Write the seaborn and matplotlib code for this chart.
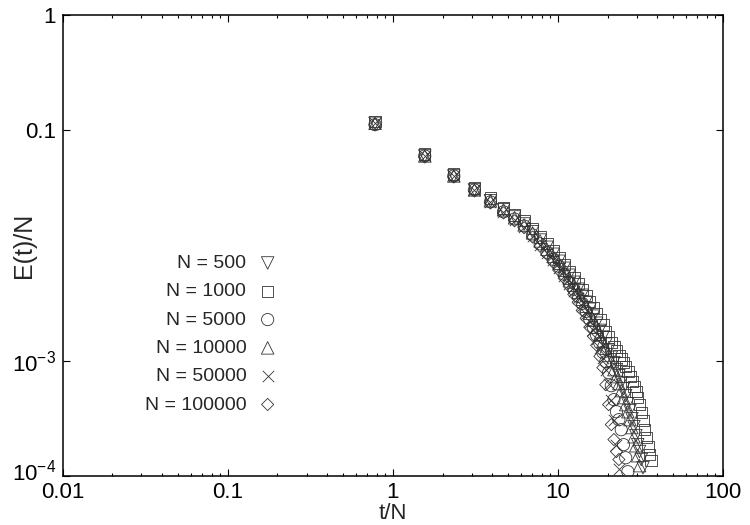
import matplotlib
import numpy as np
import pandas as pd

matplotlib.use("Agg")
import matplotlib.pyplot as plt
import matplotlib.transforms as mtransforms
import seaborn as sns
from matplotlib.ticker import FixedLocator, LogLocator, NullFormatter, NullLocator

# t/N sampling points (shared by all system sizes)
t_over_n = [0.78, 1.56, 2.34, 3.12, 3.90, 4.68, 5.46, 6.24, 7.02, 7.80,
            8.58, 9.36, 10.14, 10.92, 11.70, 12.48, 13.26, 14.04, 14.82, 15.60,
            16.38, 17.16, 17.94, 18.72, 19.50, 20.28, 21.06, 21.84, 22.62, 23.40,
            24.18, 24.96, 25.74, 26.52, 27.30, 28.08, 28.86, 29.64, 30.42, 31.20,
            31.98, 32.76, 33.54, 34.32, 35.10, 35.88, 36.66]

# E(t)/N for each N
e_500 = [0.114, 0.0595, 0.0399, 0.0302, 0.0243, 0.0203, 0.0176, 0.0153, 0.0131, 0.0111,
         0.00961, 0.00836, 0.00727, 0.00632, 0.00550, 0.00478, 0.00416, 0.00369, 0.00321, 0.00279,
         0.00243, 0.00211, 0.00183, 0.00160, 0.00139, 0.00123, 0.00107, 9.61e-4, 8.36e-4, 7.41e-4,
         6.45e-4, 5.72e-4, 4.97e-4, 4.24e-4, 3.69e-4, 3.14e-4, 2.68e-4, 2.24e-4, 1.87e-4, 1.63e-4,
         1.39e-4, 1.18e-4]
e_1000 = [0.118, 0.0619, 0.0416, 0.0314, 0.0257, 0.0211, 0.0183, 0.0163, 0.0139, 0.0118,
          0.0103, 0.00905, 0.00787, 0.00684, 0.00595, 0.00528, 0.00468, 0.00416, 0.00369, 0.00327,
          0.00290, 0.00257, 0.00228, 0.00203, 0.00180, 0.00160, 0.00144, 0.00131, 0.00121, 0.00111,
          0.00103, 9.61e-4, 8.87e-4, 8.03e-4, 7.27e-4, 6.58e-4, 5.95e-4, 5.39e-4, 4.78e-4, 4.16e-4,
          3.54e-4, 3.02e-4, 2.52e-4, 2.15e-4, 1.80e-4, 1.53e-4, 1.36e-4]
e_5000 = [0.111, 0.0595, 0.0399, 0.0302, 0.0238, 0.0195, 0.0169, 0.0147, 0.0123, 0.0103,
          0.00870, 0.00756, 0.00658, 0.00561, 0.00478, 0.00416, 0.00361, 0.00314, 0.00268, 0.00228,
          0.00195, 0.00166, 0.00142, 0.00118, 9.80e-4, 7.87e-4, 6.07e-4, 4.59e-4, 3.61e-4, 3.08e-4,
          2.52e-4, 1.87e-4, 1.44e-4, 1.09e-4]
e_10000 = [0.114, 0.0595, 0.0399, 0.0302, 0.0243, 0.0203, 0.0173, 0.0150, 0.0128, 0.0109,
           0.00923, 0.00803, 0.00698, 0.00607, 0.00518, 0.00450, 0.00391, 0.00340, 0.00296, 0.00257,
           0.00224, 0.00195, 0.00169, 0.00147, 0.00128, 0.00111, 9.80e-4, 8.36e-4, 7.27e-4, 6.32e-4,
           5.50e-4, 4.78e-4, 4.16e-4, 3.61e-4, 3.08e-4, 2.63e-4, 2.19e-4, 1.83e-4, 1.50e-4, 1.23e-4]
e_50000 = [0.114, 0.0595, 0.0399, 0.0302, 0.0238, 0.0195, 0.0166, 0.0144, 0.0121, 0.0100,
           0.00852, 0.00741, 0.00632, 0.00539, 0.00459, 0.00399, 0.00347, 0.00296, 0.00252, 0.00215,
           0.00183, 0.00153, 0.00128, 0.00105, 8.36e-4, 6.32e-4, 4.59e-4, 3.08e-4, 1.87e-4, 1.14e-4]
e_100000 = [0.111, 0.0583, 0.0391, 0.0296, 0.0233, 0.0191, 0.0163, 0.0142, 0.0118, 0.00980,
            0.00836, 0.00712, 0.00607, 0.00518, 0.00441, 0.00376, 0.00321, 0.00273, 0.00233, 0.00195,
            0.00163, 0.00136, 0.00109, 8.70e-4, 6.19e-4, 4.16e-4, 2.79e-4, 2.07e-4, 1.63e-4, 1.39e-4]

sizes = [500, 1000, 5000, 10000, 50000, 100000]
energies = [e_500, e_1000, e_5000, e_10000, e_50000, e_100000]
markers = ["v", "s", "o", "^", "x", "D"]
marker_pts = [9.0, 8.2, 8.8, 9.0, 8.2, 6.2]

sns.set_theme(style="ticks")
plt.rcParams["font.family"] = ["Liberation Sans", "DejaVu Sans"]
plt.rcParams["mathtext.fontset"] = "custom"
plt.rcParams["mathtext.rm"] = "Liberation Sans"
plt.rcParams["mathtext.it"] = "Liberation Sans"
plt.rcParams["mathtext.default"] = "regular"

fig = plt.figure(figsize=(7.5, 5.25), dpi=100)
ax = fig.add_axes([0.0836, 0.0933, 0.8804, 0.8790])

for n, e, m, ms in zip(sizes, energies, markers, marker_pts):
    df = pd.DataFrame({"t/N": t_over_n[:len(e)], "E(t)/N": e})
    if m == "x":
        kw = dict(color="#333333", linewidth=0.6)
    else:
        kw = dict(facecolor="none", edgecolor="#333333", linewidth=0.6)
    sns.scatterplot(data=df, x="t/N", y="E(t)/N", marker=m, s=ms ** 2, ax=ax,
                    label=f"N = {n}", legend=False, **kw)

ax.set_xscale("log")
ax.set_yscale("log")
ax.set_xlim(0.01, 100)
ax.set_ylim(1e-4, 1)

ax.xaxis.set_major_locator(FixedLocator([0.01, 0.1, 1, 10, 100]))
ax.set_xticklabels(["0.01", "0.1", "1", "10", "100"])
ax.xaxis.set_minor_locator(LogLocator(base=10, subs=np.arange(2, 10)))
ax.xaxis.set_minor_formatter(NullFormatter())
ax.yaxis.set_major_locator(FixedLocator([1e-4, 1e-3, 0.1, 1]))
ax.set_yticklabels(["$10^{-4}$", "$10^{-3}$", "0.1", "1"])
ax.yaxis.set_minor_locator(NullLocator())

ax.tick_params(which="both", direction="in", top=True, right=True, colors="black",
               labelsize=16, width=0.8)
ax.tick_params(which="major", length=5, pad=5)
ax.tick_params(axis="x", which="major", pad=4)
ax.tick_params(which="minor", length=2.5)
for sp in ax.spines.values():
    sp.set_color("black")
    sp.set_linewidth(1.1)

# nudge the bottom y label up a little so it clears the 0.01 label in the corner
lab = ax.get_yticklabels()[0]
lab.set_transform(lab.get_transform() + mtransforms.ScaledTranslation(0, 4 / 72, fig.dpi_scale_trans))

ax.set_xlabel("t/N", fontsize=16)
ax.set_ylabel("E(t)/N", fontsize=18)
ax.xaxis.set_label_coords(0.5, -0.058)
ax.yaxis.set_label_coords(-0.041, 0.5)

ax.legend(loc="center", bbox_to_anchor=(0.2246, 0.3077), frameon=False, markerfirst=False,
          handletextpad=0.6, handlelength=1.0, labelspacing=0.55, fontsize=14, borderpad=0)

fig.savefig("out.png", dpi=100)
